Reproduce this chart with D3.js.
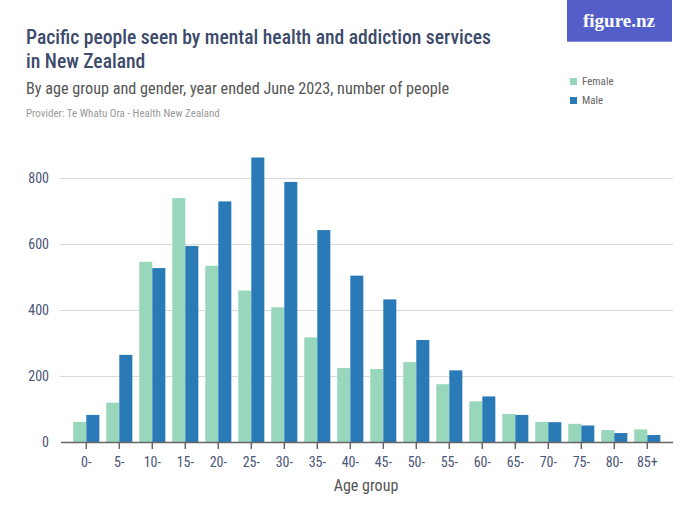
<!DOCTYPE html>
<html><head><meta charset="utf-8">
<script src="https://cdn.jsdelivr.net/npm/d3@7"></script>
<style>body{margin:0;background:#fff}svg{display:block}</style>
</head><body><svg id="c" width="700" height="525"></svg>
<script>
const categories = ["0-","5-","10-","15-","20-","25-","30-","35-","40-","45-","50-","55-","60-","65-","70-","75-","80-","85+"];
const female = [62,120,547,740,535,460,409,318,225,222,243,176,124,86,62,56,37,39];
const male   = [83,265,528,595,730,863,789,643,505,433,310,218,139,83,61,51,28,22];
const seriesNames = ["Female","Male"];
const yTicks = [0,200,400,600,800];

const FONT = "'Liberation Sans Narrow','Roboto Condensed','Liberation Sans',sans-serif";
const colors = {Female:"#98d7bc", Male:"#2a7ab8"};
const svg = d3.select("#c").style("font-family", FONT);

// header
svg.append("text").attr("x",26).attr("y",44).attr("font-size",19.6).attr("fill","#3c4a6b").attr("font-weight",500)
  .text("Pacific people seen by mental health and addiction services");
svg.append("text").attr("x",26).attr("y",68).attr("font-size",19.6).attr("fill","#3c4a6b").attr("font-weight",500)
  .text("in New Zealand");
svg.append("text").attr("x",26).attr("y",94).attr("font-size",16.2).attr("fill","#555")
  .text("By age group and gender, year ended June 2023, number of people");
svg.append("text").attr("x",26).attr("y",117).attr("font-size",11).attr("fill","#999")
  .text("Provider: Te Whatu Ora - Health New Zealand");

// logo
svg.append("rect").attr("x",567).attr("y",0).attr("width",105).attr("height",42).attr("fill","#535ec8");
svg.append("rect").attr("x",567).attr("y",41).attr("width",105).attr("height",1).attr("fill","#8b93dc");
svg.append("text").attr("x",619).attr("y",27).attr("text-anchor","middle").attr("font-size",19)
  .attr("font-family","'Liberation Serif','DejaVu Serif',serif").attr("font-weight","bold").attr("fill","#fff").text("figure.nz");

// legend
seriesNames.forEach((s,i)=>{
  svg.append("rect").attr("x",570).attr("y",78+i*19).attr("width",7).attr("height",7).attr("fill",colors[s]);
  svg.append("text").attr("x",582).attr("y",85+i*19).attr("font-size",11).attr("fill","#666").text(s);
});

// scales
const x = d3.scaleBand().domain(categories).range([69.8,663.8]).paddingInner(0.21).paddingOuter(0.105);
const x1 = d3.scaleBand().domain(seriesNames).range([0,x.bandwidth()]);
const y = d3.scaleLinear().domain([0,800]).range([442.3,178.3]);

// gridlines
const g = svg.append("g");
g.selectAll("line.grid").data(yTicks.filter(d=>d>0)).join("line")
  .attr("x1",60).attr("x2",673).attr("y1",d=>Math.round(y(d))+0.5).attr("y2",d=>Math.round(y(d))+0.5)
  .attr("stroke","#d9d9d9").attr("stroke-width",1);
g.selectAll("text.yl").data(yTicks).join("text")
  .attr("x",49).attr("y",d=>y(d)+5).attr("text-anchor","end").attr("font-size",14).attr("fill","#4a5578").text(d=>d);

// bars
const rows = categories.map((c,i)=>({c, Female:female[i], Male:male[i]}));
const grp = svg.append("g").selectAll("g").data(rows).join("g").attr("transform",d=>`translate(${x(d.c)},0)`);
grp.selectAll("rect").data(d=>seriesNames.map(s=>({s,v:d[s]}))).join("rect")
  .attr("x",d=>x1(d.s)).attr("width",x1.bandwidth())
  .attr("y",d=>y(d.v)).attr("height",d=>y(0)-y(d.v)).attr("fill",d=>colors[d.s]);

// x axis
const ax = svg.append("g").attr("transform",`translate(0,${Math.round(y(0))})`)
  .call(d3.axisBottom(x).tickSize(7).tickPadding(8));
ax.select(".domain").remove();
ax.insert("line",":first-child").attr("x1",61).attr("x2",673).attr("y1",0.5).attr("y2",0.5).attr("stroke","#666").attr("stroke-width",1.5);
ax.selectAll(".tick line").attr("stroke","#666").attr("stroke-width",1.5);
ax.selectAll(".tick text").attr("font-size",14).attr("fill","#4a5578").attr("font-family",FONT);
svg.append("text").attr("x",366).attr("y",491).attr("text-anchor","middle").attr("font-size",16).attr("fill","#555").text("Age group");
</script></body></html>
